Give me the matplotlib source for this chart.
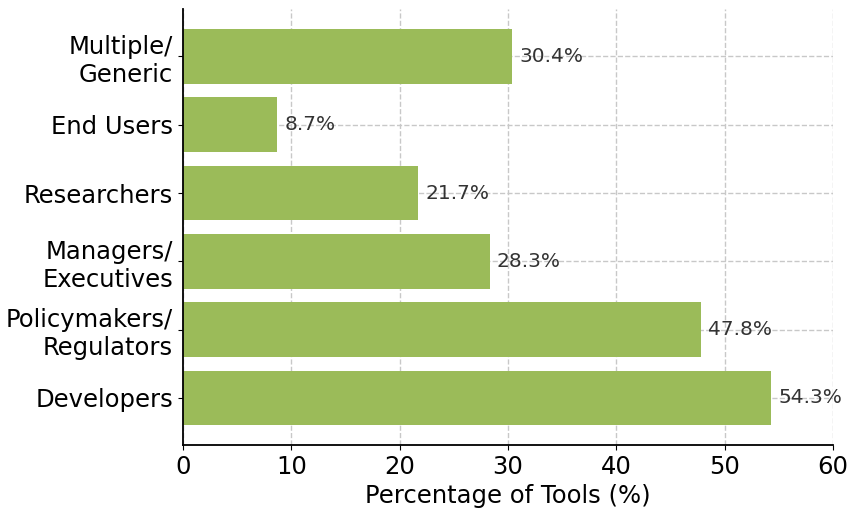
import matplotlib
matplotlib.use('Agg')
import matplotlib.pyplot as plt

categories = ['Developers', 'Policymakers/\nRegulators', 'Managers/\nExecutives',
              'Researchers', 'End Users', 'Multiple/\nGeneric']
percent = [54.3, 47.8, 28.3, 21.7, 8.7, 30.4]
xticks = [0, 10, 20, 30, 40, 50, 60]

fig = plt.figure(figsize=(8.51, 5.09), dpi=100)
ax = fig.add_axes([0.215, 0.1257, 0.764, 0.856])

bars = ax.barh(categories, percent, height=0.8, color='#9BBB59', zorder=2)
for b, v in zip(bars, percent):
    ax.annotate(f'{v}%', (b.get_width(), b.get_y() + b.get_height() / 2),
                xytext=(5, 0), textcoords='offset points',
                va='center', ha='left', fontsize=14.5, color='#333333')

ax.set_xlim(0, 60)
ax.set_xticks(xticks)
ax.set_xlabel('Percentage of Tools (%)', fontsize=17.5)
ax.tick_params(axis='both', labelsize=17.5)
ax.grid(True, linestyle='--', color='#c8c8c8', linewidth=1, zorder=0)
ax.set_axisbelow(True)
ax.spines['top'].set_visible(False)
ax.spines['right'].set_visible(False)
for s in ('left', 'bottom'):
    ax.spines[s].set_linewidth(1.3)

fig.savefig('out.png', dpi=100)
